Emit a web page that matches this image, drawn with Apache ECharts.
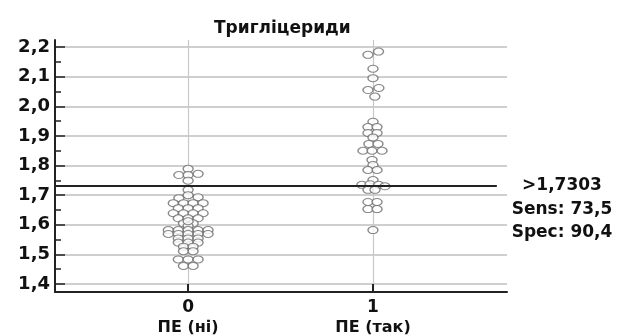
<!DOCTYPE html>
<html>
<head>
<meta charset="utf-8">
<script src="https://cdn.jsdelivr.net/npm/echarts@6/dist/echarts.min.js"></script>
<style>html,body{margin:0;padding:0;background:#fff;}#c{width:621px;height:336px;}</style>
</head>
<body>
<div id="c"></div>
<script>
// Title and annotation texts
const chartTitle = 'Тригліцериди';
const cutoffLines = ['>1,7303', 'Sens: 73,5', 'Spec: 90,4'];
const cutoffValue = 1.7303;

// Categories (x positions) and their names
const categoryValues = [0, 1];
const categoryNames = ['ПЕ (ні)', 'ПЕ (так)'];

// Y tick values
const yMajorTicks = [1.4, 1.5, 1.6, 1.7, 1.8, 1.9, 2.0, 2.1, 2.2];
const yMinorTicks = [1.45, 1.55, 1.65, 1.75, 1.85, 1.95, 2.05, 2.15];

// Group 0 (ПЕ ні): x = category 0 + dot-plot spread, y = value
const group0X = [0,-0.05,0,0.054,0,
  0,0,-0.05,0.054,
  -0.08,-0.025,0.027,0.081,
  -0.053,0,0.054,
  -0.08,-0.025,0.027,0.081,
  -0.053,0,0.054,
  -0.025,0.027,0,0,
  -0.107,-0.053,0,0.054,0.108,
  -0.107,-0.053,0,0.054,0.108,
  -0.053,0,0.054,
  -0.053,0,0.054,
  -0.025,0.027,
  -0.025,0.027,
  -0.053,0,0.054,
  -0.025,0.027];
const group0Y = [1.789,1.768,1.768,1.772,1.749,
  1.718,1.700,1.690,1.693,
  1.673,1.673,1.673,1.673,
  1.656,1.656,1.656,
  1.639,1.639,1.639,1.639,
  1.622,1.622,1.622,
  1.605,1.605,1.596,1.612,
  1.582,1.582,1.582,1.582,1.582,
  1.569,1.569,1.569,1.569,1.569,
  1.554,1.554,1.554,
  1.540,1.540,1.540,
  1.526,1.526,
  1.511,1.511,
  1.483,1.483,1.483,
  1.461,1.461];

// Group 1 (ПЕ так)
const group1X = [0.973,1.03,1,1,0.973,1.032,1.01,
  1,0.973,1.022,0.973,1.022,1,0.978,1.027,0.946,0.995,1.049,
  0.995,1,0.973,1.022,1,
  0.94,0.984,1.03,1.065,
  0.973,1.011,0.973,1.022,0.973,1.022,1];
const group1Y = [2.174,2.185,2.127,2.095,2.055,2.062,2.033,
  1.948,1.930,1.930,1.910,1.910,1.895,1.873,1.873,1.850,1.850,1.850,
  1.819,1.802,1.785,1.785,1.751,
  1.735,1.737,1.735,1.730,
  1.718,1.718,1.677,1.677,1.653,1.653,1.582];

const FONT = 'DejaVu Sans';
const toPairs = (xs, ys) => xs.map((x, i) => [x, ys[i]]);
const fmt = v => v.toFixed(1).replace('.', ',');

const chart = echarts.init(document.getElementById('c'), null, {renderer: 'canvas'});
const dotStyle = {color: '#fff', borderColor: '#6a6a6a', borderWidth: 1.2};

chart.setOption({
  animation: false,
  backgroundColor: '#fff',
  title: {
    text: chartTitle, left: 209, top: 15,
    textStyle: {fontFamily: FONT, fontWeight: 'bold', fontSize: 17, color: '#111'}
  },
  graphic: cutoffLines.map((t, i) => ({
    type: 'text', x: 562, y: 186 + i * 23.5,
    style: {text: t, fontFamily: FONT, fontWeight: 'bold', fontSize: 17, fill: '#111',
      align: 'center', verticalAlign: 'middle'}
  })),
  grid: {left: 55, right: 114, top: 40, bottom: 44, containLabel: false},
  xAxis: {
    type: 'value', min: -0.72, max: 1.725,
    axisLine: {show: true, onZero: false, lineStyle: {color: '#222', width: 2}},
    axisTick: {show: true, inside: true, length: 8, customValues: categoryValues,
      lineStyle: {color: '#222', width: 2}},
    axisLabel: {
      customValues: categoryValues, margin: 6,
      formatter: v => '{a|' + v + '}\n{b|' + categoryNames[categoryValues.indexOf(v)] + '}',
      rich: {
        a: {fontFamily: FONT, fontWeight: 'bold', fontSize: 17, color: '#111', lineHeight: 20},
        b: {fontFamily: FONT, fontWeight: 'bold', fontSize: 16, color: '#111', lineHeight: 20}
      }
    },
    splitLine: {show: true, lineStyle: {color: '#c8c8c8', width: 1.2}}
  },
  yAxis: [{
    type: 'value', min: 1.373, max: 2.224, position: 'left',
    axisLine: {show: true, onZero: false, lineStyle: {color: '#222', width: 2}},
    axisTick: {show: true, inside: true, length: 10, customValues: yMajorTicks,
      lineStyle: {color: '#222', width: 1.5}},
    axisLabel: {customValues: yMajorTicks, formatter: fmt, margin: 5,
      fontFamily: FONT, fontWeight: 'bold', fontSize: 18, color: '#111'},
    splitLine: {show: true, lineStyle: {color: '#cfcfcf', width: 2}}
  }, {
    type: 'value', min: 1.373, max: 2.224, position: 'left',
    axisLine: {show: false, onZero: false},
    axisTick: {show: true, inside: true, length: 6, customValues: yMinorTicks,
      lineStyle: {color: '#222', width: 1.5}},
    axisLabel: {show: false},
    splitLine: {show: false}
  }],
  series: [{
    type: 'scatter', yAxisIndex: 0, symbol: 'circle', symbolSize: [10, 7],
    itemStyle: dotStyle, z: 3,
    data: toPairs(group0X, group0Y),
    markLine: {
      silent: true, symbol: 'none', label: {show: false},
      lineStyle: {color: '#222', width: 2, type: 'solid'},
      data: [[{coord: [-0.72, cutoffValue]}, {coord: [1.67, cutoffValue]}]]
    }
  }, {
    type: 'scatter', yAxisIndex: 0, symbol: 'circle', symbolSize: [10, 7],
    itemStyle: dotStyle, z: 3,
    data: toPairs(group1X, group1Y)
  }]
});
</script>
</body>
</html>
